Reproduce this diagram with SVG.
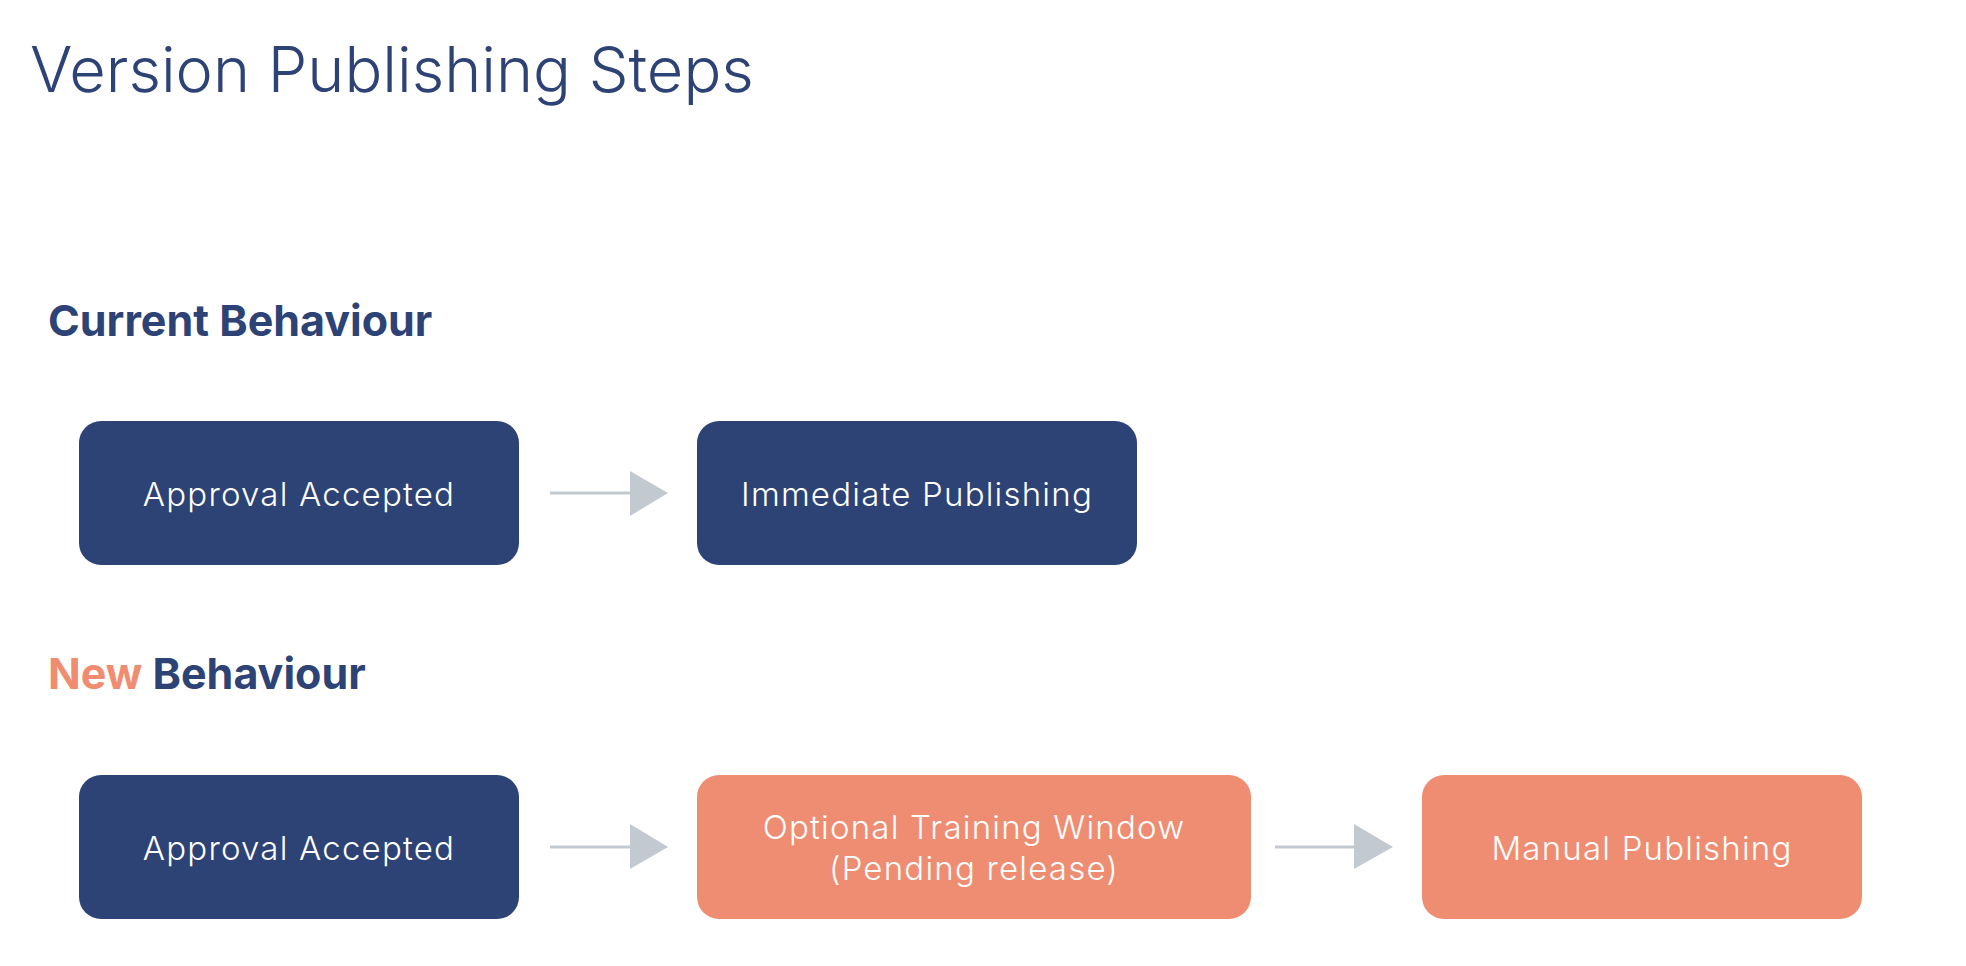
<svg xmlns="http://www.w3.org/2000/svg" width="1966" height="966" viewBox="0 0 1966 966">
<style>
.title{font-family:Inter,"Noto Sans",sans-serif;font-weight:300;font-size:63px;fill:#2d4275}
.head{font-family:Inter,"Noto Sans",sans-serif;font-weight:700;font-size:43px;fill:#2d4275}
.accent{fill:#f08c70}
.navy{fill:#2d4275}
.orange{fill:#ef8d72}
.lbl{font-family:Inter,"Noto Sans",sans-serif;font-weight:300;font-size:33px;letter-spacing:1.2px;fill:#ffffff;text-anchor:middle}
.conn{stroke:#c3c9d1;stroke-width:3;fill:none}
.head-tri{fill:#c3c9d1}
</style>
<rect width="1966" height="966" fill="#ffffff"/>
<text class="title" x="30" y="92">Version Publishing Steps</text>
<text class="head" x="48" y="336">Current Behaviour</text>
<text class="head" x="48" y="689"><tspan class="accent">New</tspan> Behaviour</text>
<g id="connectors">
<line class="conn" x1="550" y1="493" x2="632" y2="493"/>
<polygon class="head-tri" points="630,471 668,493 630,516"/>
<line class="conn" x1="550" y1="847" x2="632" y2="847"/>
<polygon class="head-tri" points="630,824 668,847 630,869"/>
<line class="conn" x1="1275" y1="847" x2="1356" y2="847"/>
<polygon class="head-tri" points="1354,824 1393,847 1354,869"/>
</g>
<g id="current-approval">
<rect class="navy" x="79" y="421" width="440" height="144" rx="22"/>
<text class="lbl" x="299" y="506">Approval Accepted</text>
</g>
<g id="current-immediate">
<rect class="navy" x="697" y="421" width="440" height="144" rx="22"/>
<text class="lbl" x="917" y="506">Immediate Publishing</text>
</g>
<g id="new-approval">
<rect class="navy" x="79" y="775" width="440" height="144" rx="22"/>
<text class="lbl" x="299" y="860">Approval Accepted</text>
</g>
<g id="new-training">
<rect class="orange" x="697" y="775" width="554" height="144" rx="22"/>
<text class="lbl" x="974" y="839">Optional Training Window</text>
<text class="lbl" x="974" y="880">(Pending release)</text>
</g>
<g id="new-manual">
<rect class="orange" x="1422" y="775" width="440" height="144" rx="22"/>
<text class="lbl" x="1642" y="860">Manual Publishing</text>
</g>
</svg>
